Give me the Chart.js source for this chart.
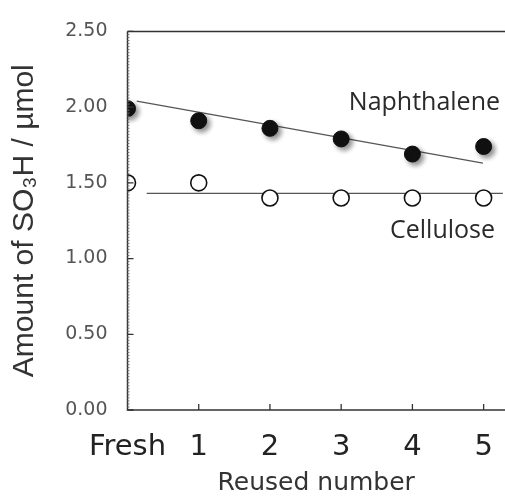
<!DOCTYPE html>
<html>
<head>
<meta charset="utf-8">
<script src="https://cdn.jsdelivr.net/npm/chart.js@4"></script>
<style>
  html, body { margin: 0; padding: 0; background: #fff; overflow: hidden; }
  #wrap { width: 505px; height: 498px; }
  canvas { display: block; }
</style>
</head>
<body>
<div id="wrap"><canvas id="c" width="505" height="498"></canvas></div>
<script>
// Reuse cycles of the sulfonated carbon catalysts
const reuseLabels = ['Fresh', '1', '2', '3', '4', '5'];
const reuseIndex = [0, 1, 2, 3, 4, 5];

// Amount of SO3H groups (µmol)
const naphthaleneSO3H = [1.99, 1.91, 1.86, 1.79, 1.69, 1.74];
const celluloseSO3H = [1.50, 1.50, 1.40, 1.40, 1.40, 1.40];

// Trend lines (end points)
const naphthaleneTrendX = [0.13, 4.99];
const naphthaleneTrendY = [2.04, 1.63];
const celluloseTrendX = [0.27, 5.27];
const celluloseTrendY = [1.43, 1.43];

// Y axis ticks
const yTicks = [0, 0.5, 1.0, 1.5, 2.0, 2.5];

const toPoints = (xs, ys) => xs.map((x, i) => ({ x: x, y: ys[i] }));

// Series name labels placed next to their data
const seriesLabels = [
  { text: 'Naphthalene', x: 5.23, y: 2.03 },
  { text: 'Cellulose', x: 5.16, y: 1.185 }
];

// Soft grey shadow under the filled markers
const shadowPlugin = {
  id: 'markerShadow',
  beforeDatasetDraw(chart, args) {
    if (chart.data.datasets[args.index].shadow) {
      const ctx = chart.ctx;
      ctx.save();
      ctx.shadowColor = 'rgba(0,0,0,0.45)';
      ctx.shadowBlur = 5;
      ctx.shadowOffsetX = 3;
      ctx.shadowOffsetY = 3;
    }
  },
  afterDatasetDraw(chart, args) {
    if (chart.data.datasets[args.index].shadow) chart.ctx.restore();
  }
};

// Frame: axis lines with inward ticks, top rule, and series labels
const framePlugin = {
  id: 'frame',
  afterDatasetsDraw(chart) {
    const ctx = chart.ctx;
    const xs = chart.scales.x, ys = chart.scales.y;
    const a = chart.chartArea;
    ctx.save();
    ctx.strokeStyle = '#333';
    ctx.lineWidth = 1.5;
    ctx.beginPath();
    ctx.moveTo(a.left, a.top);
    ctx.lineTo(a.left, a.bottom);
    ctx.lineTo(a.right, a.bottom);
    ctx.moveTo(a.left, a.top);
    ctx.lineTo(a.right, a.top);
    ctx.stroke();

    // minor ticks on the value axis
    ctx.lineWidth = 1;
    ctx.strokeStyle = '#777';
    ctx.beginPath();
    for (let k = 1; k < 125; k++) {
      const py = ys.getPixelForValue(k * 0.02);
      ctx.moveTo(a.left, py);
      ctx.lineTo(a.left + 2, py);
    }
    ctx.stroke();

    // major ticks
    ctx.lineWidth = 1.3;
    ctx.strokeStyle = '#333';
    ctx.beginPath();
    yTicks.forEach(v => {
      const py = ys.getPixelForValue(v);
      ctx.moveTo(a.left, py);
      ctx.lineTo(a.left + 6, py);
    });
    reuseIndex.slice(1).forEach(v => {
      const px = xs.getPixelForValue(v);
      ctx.moveTo(px, a.bottom);
      ctx.lineTo(px, a.bottom - 6);
    });
    ctx.stroke();

    // series labels
    ctx.fillStyle = '#2a2a2a';
    ctx.font = '25px "Open Sans"';
    ctx.textAlign = 'right';
    ctx.textBaseline = 'middle';
    seriesLabels.forEach(l => {
      ctx.fillText(l.text, xs.getPixelForValue(l.x), ys.getPixelForValue(l.y));
    });
    ctx.restore();
  }
};

new Chart(document.getElementById('c'), {
  type: 'scatter',
  data: {
    datasets: [
      {
        label: 'Naphthalene trend',
        data: toPoints(naphthaleneTrendX, naphthaleneTrendY),
        showLine: true,
        borderColor: '#555',
        borderWidth: 1.2,
        pointRadius: 0,
        order: 3
      },
      {
        label: 'Cellulose trend',
        data: toPoints(celluloseTrendX, celluloseTrendY),
        showLine: true,
        borderColor: '#555',
        borderWidth: 1.2,
        pointRadius: 0,
        order: 3
      },
      {
        label: 'Cellulose',
        data: toPoints(reuseIndex, celluloseSO3H),
        pointRadius: 8,
        pointBackgroundColor: '#fff',
        pointBorderColor: '#111',
        pointBorderWidth: 1.6,
        order: 2
      },
      {
        label: 'Naphthalene',
        data: toPoints(reuseIndex, naphthaleneSO3H),
        pointRadius: 8,
        pointBackgroundColor: '#111',
        pointBorderColor: '#111',
        pointBorderWidth: 1,
        shadow: true,
        order: 1
      }
    ]
  },
  options: {
    responsive: false,
    animation: false,
    layout: { autoPadding: false, padding: { top: 26, right: 0, bottom: 0, left: 0 } },
    plugins: {
      legend: { display: false },
      tooltip: { enabled: false }
    },
    scales: {
      x: {
        type: 'linear',
        min: 0,
        max: 5.3,
        afterBuildTicks: s => { s.ticks = reuseIndex.map(v => ({ value: v })); },
        afterFit: s => { s.height = 88; s.paddingRight = 0; },
        grid: { display: false, drawTicks: false },
        border: { display: false },
        ticks: {
          padding: 20,
          maxRotation: 0,
          minRotation: 0,
          autoSkip: false,
          color: '#222',
          font: { family: '"DejaVu Sans"', size: 29 },
          callback: v => reuseLabels[v] ?? ''
        },
        title: {
          display: true,
          text: 'Reused number',
          color: '#333',
          font: { family: '"DejaVu Sans"', size: 25 },
          padding: { top: 0, bottom: 0 }
        }
      },
      y: {
        min: 0,
        max: 2.5,
        afterFit: s => { s.width = 127.5; },
        grid: { display: false, drawTicks: false },
        border: { display: false },
        ticks: {
          stepSize: 0.5,
          padding: 20,
          color: '#555',
          font: { family: '"DejaVu Sans"', size: 19 },
          callback: v => Number(v).toFixed(2)
        },
        title: {
          display: true,
          text: 'Amount of SO₃H / µmol',
          color: '#333',
          font: { family: '"Liberation Sans"', size: 30 },
          padding: { top: 7, bottom: 0 }
        }
      }
    }
  },
  plugins: [shadowPlugin, framePlugin]
});
</script>
</body>
</html>
